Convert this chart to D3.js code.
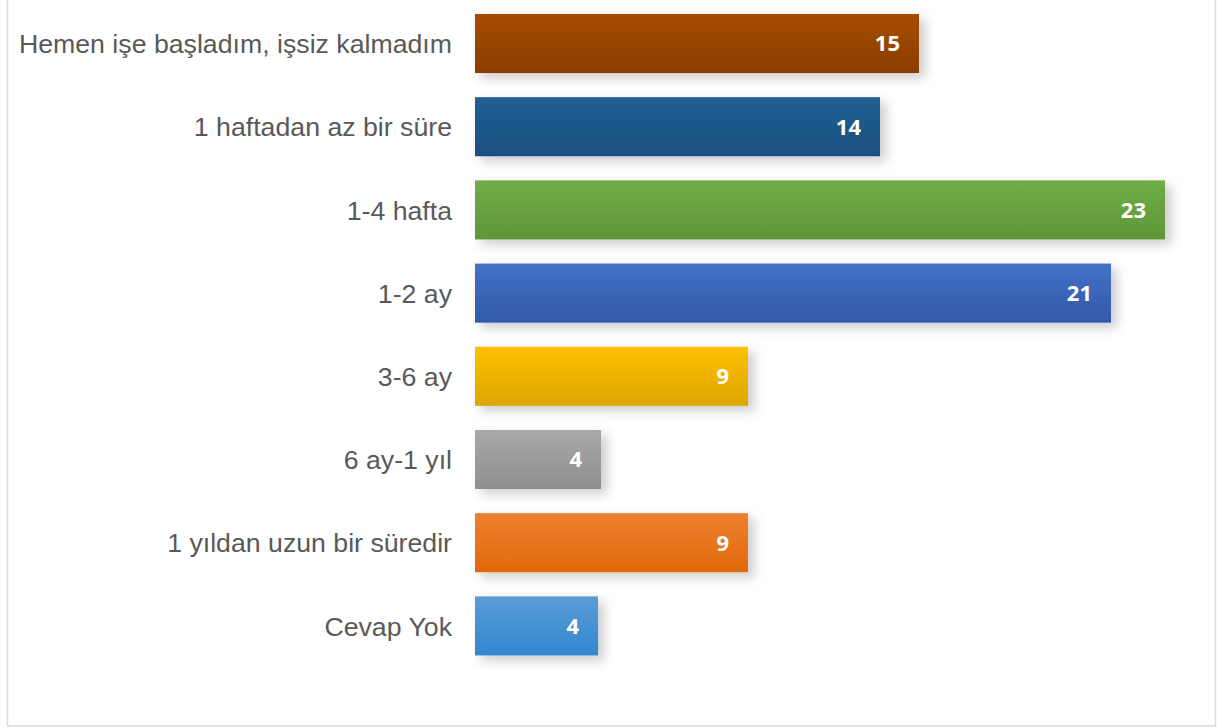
<!DOCTYPE html>
<html><head><meta charset="utf-8">
<script src="https://cdn.jsdelivr.net/npm/d3@7"></script>
<style>html,body{margin:0;padding:0;background:#fff;}svg{display:block;}</style>
</head><body>
<script>
const categories = ["Hemen işe başladım, işsiz kalmadım","1 haftadan az bir süre","1-4 hafta","1-2 ay","3-6 ay","6 ay-1 yıl","1 yıldan uzun bir süredir","Cevap Yok"];
const values = [14.8, 13.5, 23.0, 21.2, 9.1, 4.2, 9.1, 4.1];
const valueLabels = ["15","14","23","21","9","4","9","4"];
const topColors = ["#A64D00","#215F92","#70AD47","#4472C4","#FFC000","#A8A8A8","#EE8030","#5B9DD6"];
const bottomColors = ["#8A3D00","#1B5080","#5E9637","#3059AA","#DCA600","#8F8F8F","#E0680A","#3287CF"];

const W = 1217, H = 728;
const svg = d3.select("body").append("svg").attr("width", W).attr("height", H);
const defs = svg.append("defs");
const f = defs.append("filter").attr("id","shadow").attr("x","-10%").attr("y","-30%").attr("width","130%").attr("height","170%");
f.append("feDropShadow").attr("dx",6).attr("dy",5).attr("stdDeviation",6).attr("flood-color","#000").attr("flood-opacity",0.2);

categories.forEach((c,i)=>{
  const g = defs.append("linearGradient").attr("id","g"+i).attr("x1",0).attr("y1",0).attr("x2",0).attr("y2",1);
  g.append("stop").attr("offset","0%").attr("stop-color",topColors[i]);
  g.append("stop").attr("offset","100%").attr("stop-color",bottomColors[i]);
});

svg.append("rect").attr("x",7.5).attr("y",-2).attr("width",1208).attr("height",728)
  .attr("fill","#fff").attr("stroke","#d9d9d9").attr("stroke-width",1.5);

const x = d3.scaleLinear().domain([0, 23]).range([475, 1165]);
const y = d3.scaleBand().domain(categories).range([1.9, 667.5]).paddingInner(0.29).paddingOuter(0.145);

const rows = svg.append("g").selectAll("g").data(categories).join("g");
rows.append("rect")
  .attr("x", x(0))
  .attr("y", d=>y(d))
  .attr("width", (d,i)=>x(values[i])-x(0))
  .attr("height", y.bandwidth())
  .attr("fill", (d,i)=>"url(#g"+i+")")
  .attr("filter","url(#shadow)");

rows.append("text")
  .attr("x", (d,i)=>x(values[i]) - 19)
  .attr("y", d=>y(d)+y.bandwidth()/2)
  .attr("dy","0.36em")
  .attr("text-anchor","end")
  .attr("fill","#fff")
  .attr("font-family","'Open Sans', sans-serif")
  .attr("font-weight","bold")
  .attr("font-size","22px")
  .text((d,i)=>valueLabels[i]);

rows.append("text")
  .attr("x", x(0) - 23)
  .attr("y", d=>y(d)+y.bandwidth()/2)
  .attr("dy","0.36em")
  .attr("text-anchor","end")
  .attr("fill","#595959")
  .attr("font-family","'Liberation Sans', Arial, sans-serif")
  .attr("font-size","26.7px")
  .text(d=>d);
</script>
</body></html>
